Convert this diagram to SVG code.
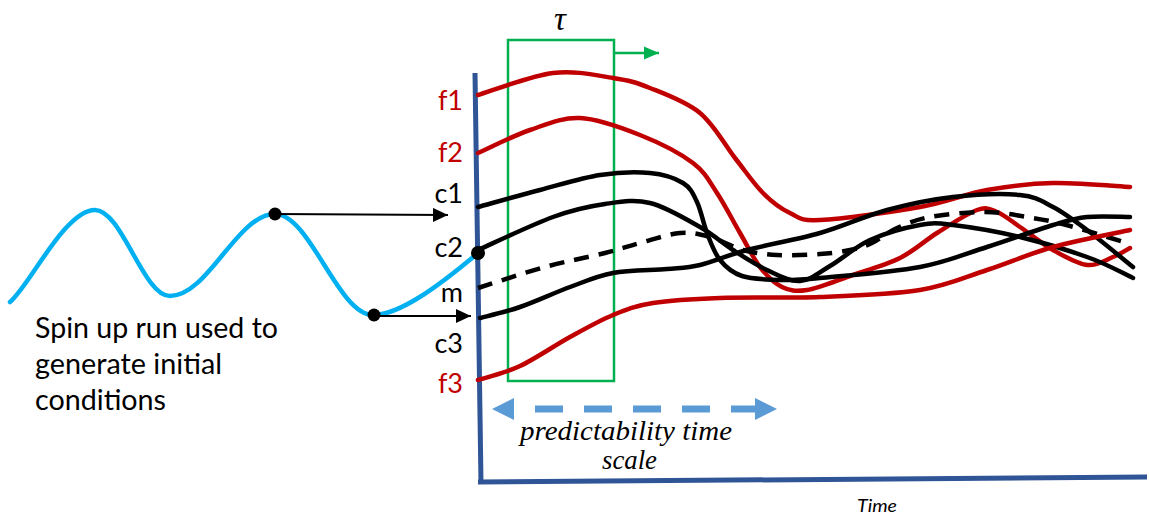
<svg xmlns="http://www.w3.org/2000/svg" width="1149" height="517" viewBox="0 0 1149 517">
<style>
.lbl{font-family:Lato,"Open Sans","Liberation Sans",sans-serif;font-size:27px;text-anchor:end}
.red{fill:#C00000}
.blk{fill:#000}
.cr{fill:none;stroke:#C00000;stroke-width:4.5;stroke-linecap:round}
.cb{fill:none;stroke:#000;stroke-width:4.5;stroke-linecap:round}
.math{font-family:"Liberation Serif","DejaVu Serif",serif;font-style:italic}
</style>
<defs>
<marker id="ah" markerUnits="userSpaceOnUse" markerWidth="16" markerHeight="14" refX="15" refY="7" orient="auto">
<path d="M0,0 L15,7 L0,14 Z" fill="#000"/>
</marker>
<marker id="gh" markerUnits="userSpaceOnUse" markerWidth="16" markerHeight="14" refX="15" refY="7" orient="auto">
<path d="M0,0.5 L15,7 L0,13.5 Z" fill="#00B050"/>
</marker>
</defs>
<rect width="1149" height="517" fill="#fff"/>

<g id="window">
<rect x="508" y="40" width="106" height="341" fill="none" stroke="#00B050" stroke-width="2.5"/>
<line x1="614" y1="53" x2="659" y2="53" stroke="#00B050" stroke-width="2.5" marker-end="url(#gh)"/>
<text class="math" x="560" y="30" font-size="33" text-anchor="middle">τ</text>
</g>

<g id="axes">
<line x1="475" y1="73" x2="481" y2="483" stroke="#2F5597" stroke-width="5"/>
<line x1="478" y1="482" x2="1147" y2="477" stroke="#2F5597" stroke-width="5"/>
<text x="857" y="512" font-family="Lato,'Liberation Sans',sans-serif" font-style="italic" font-size="18" textLength="40" lengthAdjust="spacingAndGlyphs">Time</text>
</g>

<g id="spinup">
<path d="M10,302 C30,285 65,210 95,210 C122,210 143,296 170,296 C208,296 237,214 275,214 C310,214 338,315 373,315 C400,315 440,285 478,253" fill="none" stroke="#00B0F0" stroke-width="4.5" stroke-linecap="round"/>
<text font-family="Lato,'Open Sans','Liberation Sans',sans-serif" font-size="29" fill="#000">
<tspan x="35" y="338" textLength="243" lengthAdjust="spacingAndGlyphs">Spin up run used to</tspan>
<tspan x="35" y="374" textLength="187" lengthAdjust="spacingAndGlyphs">generate initial</tspan>
<tspan x="35" y="410" textLength="131" lengthAdjust="spacingAndGlyphs">conditions</tspan>
</text>
</g>

<g id="connectors">
<line x1="275" y1="214" x2="448" y2="215" stroke="#000" stroke-width="2.2" marker-end="url(#ah)"/>
<line x1="374" y1="316" x2="471" y2="316" stroke="#000" stroke-width="2.2" marker-end="url(#ah)"/>
</g>

<g id="f1">
<path class="cr" d="M478,95 C490.5,91.3 530.5,75.8 553,73 C575.5,70.2 596.8,75.5 613,78 C629.2,80.5 635.5,82.2 650,88 C664.5,93.8 685.8,101.3 700,113 C714.2,124.7 724.5,144.7 735,158 C745.5,171.3 753.8,183.8 763,193 C772.2,202.2 780.5,208.5 790,213 C799.5,217.5 798.3,221 820,220 C841.7,219 892.2,212 920,207 C947.8,202 964.8,194 987,190 C1009.2,186 1029.2,183.5 1053,183 C1076.8,182.5 1117.2,186.3 1130,187"/>
<text class="lbl red" x="463" y="110">f1</text>
</g>

<g id="f2">
<path class="cr" d="M478,153 C486.7,149.2 513,135.8 530,130 C547,124.2 561.7,117.2 580,118 C598.3,118.8 621.2,127.5 640,135 C658.8,142.5 680.2,153.3 693,163 C705.8,172.7 709.2,181.3 717,193 C724.8,204.7 732.8,220.7 740,233 C747.2,245.3 753,258 760,267 C767,276 774.2,283.2 782,287 C789.8,290.8 795.7,291.8 807,290 C818.3,288.2 834.5,281.3 850,276 C865.5,270.7 885.5,265.2 900,258 C914.5,250.8 924.2,241 937,233 C949.8,225 967,213.5 977,210 C987,206.5 989.8,209.2 997,212 C1004.2,214.8 1010.7,220.7 1020,227 C1029.3,233.3 1041.8,243.7 1053,250 C1064.2,256.3 1077,263.8 1087,265 C1097,266.2 1105.8,259.8 1113,257 C1120.2,254.2 1127.2,249.5 1130,248"/>
<text class="lbl red" x="463" y="162">f2</text>
</g>

<g id="c1">
<path class="cb" d="M478,207 C488.3,204.2 519.7,195.3 540,190 C560.3,184.7 581.7,177.8 600,175 C618.3,172.2 636.2,171.7 650,173 C663.8,174.3 675.2,178.2 683,183 C690.8,187.8 693,193.7 697,202 C701,210.3 703.2,223.3 707,233 C710.8,242.7 714.2,252.8 720,260 C725.8,267.2 732,272.7 742,276 C752,279.3 767,279.7 780,280 C793,280.3 796.7,280.2 820,278 C843.3,275.8 892.2,272.2 920,267 C947.8,261.8 964.8,254 987,247 C1009.2,240 1036.3,230 1053,225 C1069.7,220 1074.2,218.3 1087,217 C1099.8,215.7 1122.8,217 1130,217"/>
<text class="lbl blk" x="463" y="203">c1</text>
</g>

<g id="c2">
<path class="cb" d="M478,250 C490.5,244.5 531.8,224.7 553,217 C574.2,209.3 588.8,206.3 605,204 C621.2,201.7 634.2,199.2 650,203 C665.8,206.8 686.2,219.2 700,227 C713.8,234.8 721.8,242.8 733,250 C744.2,257.2 755.8,264.8 767,270 C778.2,275.2 789.5,281.7 800,281 C810.5,280.3 818.3,272.8 830,266 C841.7,259.2 855,246.8 870,240 C885,233.2 906.2,227.5 920,225 C933.8,222.5 936.3,223 953,225 C969.7,227 997.7,231.7 1020,237 C1042.3,242.3 1068.2,250.2 1087,257 C1106.8,263.8 1125.3,274.5 1133,278"/>
<circle cx="478" cy="253" r="7" fill="#000"/>
<text class="lbl blk" x="463" y="257">c2</text>
</g>

<g id="m">
<path d="M478,288 C489.2,284.5 523.8,272.8 545,267 C566.2,261.2 589.2,257 605,253 C620.8,249 627.5,246.3 640,243 C652.5,239.7 668.3,234 680,233 C691.7,232 699.5,234.2 710,237 C720.5,239.8 731.8,247 743,250 C754.2,253 764.2,254.3 777,255 C789.8,255.7 807.8,254.8 820,254 C832.2,253.2 841.3,251.8 850,250 C858.7,248.2 864.2,246.7 872,243 C879.8,239.3 887.3,232.3 897,228 C906.7,223.7 915.3,219.7 930,217 C944.7,214.3 967.8,211.8 985,212 C1002.2,212.2 1018.8,215.7 1033,218 C1047.2,220.3 1054.3,221.8 1070,226 C1085.7,230.2 1117.5,240.2 1127,243" fill="none" stroke="#000" stroke-width="4.5" stroke-dasharray="15 10"/>
<text class="lbl blk" x="463" y="302">m</text>
</g>

<g id="c3">
<path class="cb" d="M480,318 C486.7,316.2 505,312.2 520,307 C535,301.8 554.5,292.7 570,287 C585.5,281.3 596.8,276 613,273 C629.2,270 652.5,270.3 667,269 C681.5,267.7 686.7,268.2 700,265 C713.3,261.8 727,255.3 747,250 C767,244.7 796.7,239.7 820,233 C843.3,226.3 864.8,216 887,210 C909.2,204 930.8,199.5 953,197 C975.2,194.5 1003.3,193.3 1020,195 C1036.7,196.7 1041.8,201.2 1053,207 C1064.2,212.8 1073.7,220 1087,230 C1100.3,240 1125.3,260.8 1133,267"/>
<text class="lbl blk" x="463" y="353">c3</text>
</g>

<g id="f3">
<path class="cr" d="M478,380 C485,377.7 504.7,373.2 520,366 C535.3,358.8 554.5,345.5 570,337 C585.5,328.5 599.2,320.7 613,315 C626.8,309.3 635.2,305.8 653,303 C670.8,300.2 692.2,299 720,298 C747.8,297 786.7,298.3 820,297 C853.3,295.7 892.2,294.5 920,290 C947.8,285.5 964.8,277.2 987,270 C1009.2,262.8 1029.2,253.7 1053,247 C1076.8,240.3 1117.2,232.8 1130,230"/>
<text class="lbl red" x="463" y="393">f3</text>
</g>

<g id="dots">
<circle cx="275" cy="214" r="6.5" fill="#000"/>
<circle cx="374" cy="315" r="6.5" fill="#000"/>
</g>

<g id="predictability">
<polygon points="492,409 514,398 514,420" fill="#5B9BD5"/>
<polygon points="777,409 755,398 755,420" fill="#5B9BD5"/>
<line x1="535" y1="409" x2="757" y2="409" stroke="#5B9BD5" stroke-width="7" stroke-dasharray="28 21"/>
<text class="math" font-size="27"><tspan x="520" y="440" textLength="212" lengthAdjust="spacingAndGlyphs">predictability time</tspan><tspan x="602" y="469" textLength="55" lengthAdjust="spacingAndGlyphs">scale</tspan></text>
</g>
</svg>
